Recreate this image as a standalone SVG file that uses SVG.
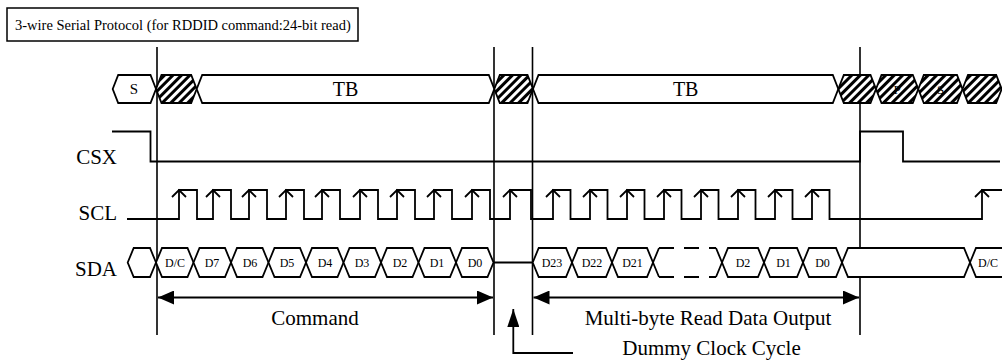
<svg xmlns="http://www.w3.org/2000/svg" width="1002" height="360" viewBox="0 0 1002 360">
  <style>
    .t { font-family: "Liberation Serif", "Times New Roman", serif; fill: #000; }
    .sig { fill: none; stroke: #000; stroke-width: 1.8; stroke-linejoin: miter; }
    .hex { fill: #fff; stroke: #000; stroke-width: 1.8; }
    .hat { fill: url(#hatch); stroke: #000; stroke-width: 1.8; }
    .grid { stroke: #000; stroke-width: 1.6; }
    .dim { stroke: #000; stroke-width: 1.8; fill: none; }
    .lbl { font-size: 21px; text-anchor: end; }
    .bit { font-size: 12px; text-anchor: middle; }
  </style>
  <defs>
    <pattern id="hatch" patternUnits="userSpaceOnUse" width="6" height="6" patternTransform="rotate(45)">
      <rect width="6" height="6" fill="#fff"/>
      <rect width="3" height="6" fill="#000"/>
    </pattern>
    <marker id="ah" viewBox="0 0 16 14" refX="16" refY="7" markerWidth="16" markerHeight="14" markerUnits="userSpaceOnUse" orient="auto-start-reverse">
      <path d="M0,0 L16,7 L0,14 z" fill="#000"/>
    </marker>
    <marker id="ahUp" viewBox="0 0 18 12" refX="18" refY="6" markerWidth="18" markerHeight="12" markerUnits="userSpaceOnUse" orient="auto">
      <path d="M0,0 L18,6 L0,12 z" fill="#000"/>
    </marker>
  </defs>

  <rect width="1002" height="360" fill="#fff"/>

  <!-- title -->
  <g id="title">
    <rect x="7" y="8" width="351" height="33" fill="#fff" stroke="#000" stroke-width="1.5"/>
    <text class="t" x="15" y="30" font-size="14.5">3-wire Serial Protocol (for RDDID command:24-bit read)</text>
  </g>

  <!-- phase boundaries -->
  <g id="boundaries">
    <line class="grid" x1="157" y1="47" x2="157" y2="335"/>
    <line class="grid" x1="494" y1="47" x2="494" y2="335"/>
    <line class="grid" x1="532.5" y1="47" x2="532.5" y2="335"/>
    <line class="grid" x1="860" y1="47" x2="860" y2="335"/>
  </g>

  <!-- transfer-byte row -->
  <g id="tb-row">
    <polygon class="hex" points="112.7,89 118.2,75 150.5,75 156,89 150.5,103 118.2,103"/>
    <text class="t" x="134" y="94" font-size="15" text-anchor="middle">S</text>
    <polygon class="hat" points="156,89 161.5,75 191.2,75 196.7,89 191.2,103 161.5,103"/>
    <polygon class="hex" points="196.7,89 202.2,75 488.8,75 494.3,89 488.8,103 202.2,103"/>
    <text class="t" x="345.5" y="96" font-size="20" text-anchor="middle">TB</text>
    <polygon class="hat" points="494.3,89 499.8,75 527.5,75 533,89 527.5,103 499.8,103"/>
    <polygon class="hex" points="533,89 538.5,75 832.8,75 838.3,89 832.8,103 538.5,103"/>
    <text class="t" x="685.7" y="96" font-size="20" text-anchor="middle">TB</text>
    <polygon class="hat" points="838.3,89 843.8,75 870.5,75 876,89 870.5,103 843.8,103"/>
    <polygon class="hat" points="876,89 881.5,75 912.8,75 918.3,89 912.8,103 881.5,103"/>
    <text class="t" x="897" y="94" font-size="13" text-anchor="middle">P</text>
    <polygon class="hat" points="918.3,89 923.8,75 957,75 962.5,89 957,103 923.8,103"/>
    <text class="t" x="940.5" y="94" font-size="13" text-anchor="middle">S</text>
    <polygon class="hat" points="962.5,89 968,75 996.2,75 1001.7,89 996.2,103 968,103"/>
  </g>

  <!-- CSX -->
  <g id="csx">
    <text class="t lbl" x="117" y="163.5">CSX</text>
    <path class="sig" d="M112,131.5 H150.5 V161.5 H860 V131.5 H903 V161.5 H1000"/>
  </g>

  <!-- SCL: rising edges marked with arrowheads -->
  <g id="scl">
    <text class="t lbl" x="117" y="220">SCL</text>
    <path class="sig" d="M127,219 H179 V190 H197 V219 H213 V190 H231 V219 H249 V190 H267 V219 H286 V190 H304 V219 H322 V190 H340 V219 H360 V190 H378 V219 H397 V190 H415 V219 H434 V190 H452 V219 H472 V190 H490 V219 H510 V190 H531 V219 H553 V190 H570.5 V219 H590 V190 H607.5 V219 H627 V190 H644.5 V219 H664 V190 H681.5 V219 H701 V190 H718.5 V219 H738 V190 H755.5 V219 H775 V190 H792.5 V219 H812 V190 H829.5 V219 H982 V190 H1002"/>
    <path class="sig" d="M172,197 L179,190 L186,197 M206,197 L213,190 L220,197 M242,197 L249,190 L256,197 M279,197 L286,190 L293,197 M315,197 L322,190 L329,197 M353,197 L360,190 L367,197 M390,197 L397,190 L404,197 M427,197 L434,190 L441,197 M465,197 L472,190 L479,197 M503,197 L510,190 L517,197 M546,197 L553,190 L560,197 M583,197 L590,190 L597,197 M620,197 L627,190 L634,197 M657,197 L664,190 L671,197 M694,197 L701,190 L708,197 M731,197 L738,190 L745,197 M768,197 L775,190 L782,197 M805,197 L812,190 L819,197 M975,197 L982,190 L989,197"/>
  </g>

  <!-- SDA -->
  <g id="sda">
    <text class="t lbl" x="117" y="276">SDA</text>
    <polygon class="hex" points="127.7,262.5 133.7,248 150,248 156,262.5 150,277 133.7,277"/>
    <polygon class="hex" points="156,262.5 162,248 187.5,248 193.5,262.5 187.5,277 162,277"/>
    <polygon class="hex" points="193.5,262.5 199.5,248 225,248 231,262.5 225,277 199.5,277"/>
    <polygon class="hex" points="231,262.5 237,248 262.5,248 268.5,262.5 262.5,277 237,277"/>
    <polygon class="hex" points="268.5,262.5 274.5,248 300,248 306,262.5 300,277 274.5,277"/>
    <polygon class="hex" points="306,262.5 312,248 337.5,248 343.5,262.5 337.5,277 312,277"/>
    <polygon class="hex" points="343.5,262.5 349.5,248 375,248 381,262.5 375,277 349.5,277"/>
    <polygon class="hex" points="381,262.5 387,248 412.5,248 418.5,262.5 412.5,277 387,277"/>
    <polygon class="hex" points="418.5,262.5 424.5,248 450,248 456,262.5 450,277 424.5,277"/>
    <polygon class="hex" points="456,262.5 462,248 487.5,248 493.5,262.5 487.5,277 462,277"/>
    <text class="t bit" x="175" y="266.5">D/C</text>
    <text class="t bit" x="212" y="266.5">D7</text>
    <text class="t bit" x="250" y="266.5">D6</text>
    <text class="t bit" x="287" y="266.5">D5</text>
    <text class="t bit" x="325" y="266.5">D4</text>
    <text class="t bit" x="362" y="266.5">D3</text>
    <text class="t bit" x="400" y="266.5">D2</text>
    <text class="t bit" x="437" y="266.5">D1</text>
    <text class="t bit" x="475" y="266.5">D0</text>
    <line class="sig" x1="493.5" y1="262.5" x2="532.7" y2="262.5"/>
    <polygon class="hex" points="532.7,262.5 538.7,248 566,248 572,262.5 566,277 538.7,277"/>
    <polygon class="hex" points="572,262.5 578,248 606,248 612,262.5 606,277 578,277"/>
    <polygon class="hex" points="612,262.5 618,248 647,248 653,262.5 647,277 618,277"/>
    <text class="t bit" x="552" y="266.5">D23</text>
    <text class="t bit" x="592" y="266.5">D22</text>
    <text class="t bit" x="632.5" y="266.5">D21</text>
    <!-- omitted bits -->
    <path class="sig" d="M653,262.5 L659,248 M653,262.5 L659,277 M722,262.5 L716,248 M722,262.5 L716,277"/>
    <path class="sig" d="M659,248 H716 M659,277 H716" stroke-dasharray="15 10"/>
    <polygon class="hex" points="722,262.5 728,248 758,248 764,262.5 758,277 728,277"/>
    <polygon class="hex" points="764,262.5 770,248 797,248 803,262.5 797,277 770,277"/>
    <polygon class="hex" points="803,262.5 809,248 836,248 842,262.5 836,277 809,277"/>
    <text class="t bit" x="743" y="266.5">D2</text>
    <text class="t bit" x="783.5" y="266.5">D1</text>
    <text class="t bit" x="822.5" y="266.5">D0</text>
    <polygon class="hex" points="842,262.5 848,248 964,248 970,262.5 964,277 848,277"/>
    <polygon class="hex" points="970,262.5 976,248 1006,248 1012,262.5 1006,277 976,277"/>
    <text class="t bit" x="988" y="266.5">D/C</text>
  </g>

  <!-- dimension arrows and annotations -->
  <g id="connectors">
    <line class="dim" x1="158" y1="297.5" x2="493" y2="297.5" marker-start="url(#ah)" marker-end="url(#ah)"/>
    <line class="dim" x1="533.5" y1="297.5" x2="859" y2="297.5" marker-start="url(#ah)" marker-end="url(#ah)"/>
    <polyline class="dim" points="573,353 513.3,353 513.3,309" marker-end="url(#ahUp)"/>
  </g>

  <g id="labels">
    <text class="t" x="315" y="325" font-size="21" text-anchor="middle">Command</text>
    <text class="t" x="708" y="325" font-size="21" text-anchor="middle">Multi-byte Read Data Output</text>
    <text class="t" x="711.5" y="355" font-size="21" text-anchor="middle">Dummy Clock Cycle</text>
  </g>
</svg>
